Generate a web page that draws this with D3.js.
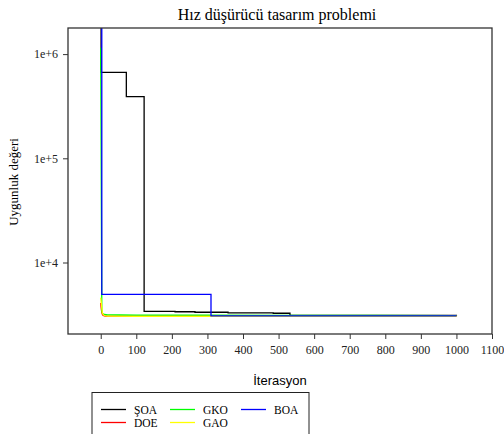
<!DOCTYPE html>
<html>
<head>
<meta charset="utf-8">
<script src="https://cdn.jsdelivr.net/npm/d3@7"></script>
<style>
  body { margin: 0; background: #fff; }
  svg { display: block; }
</style>
</head>
<body>
<svg id="chart" width="504" height="434"></svg>
<script>
// Data (iteration, fitness)
const soaIter = [0, 1, 72, 122, 209, 265, 358, 485, 532, 1000];
const soaVal  = [2.5e6, 668000, 390000, 3400, 3370, 3330, 3290, 3260, 3110, 3100];

const doeIter = [0, 2, 5, 10, 20, 100, 1000];
const doeVal  = [4100, 3500, 3150, 3080, 3060, 3055, 3050];

const gkoIter = [0, 3, 5, 10, 20, 100, 300, 530, 770, 1000];
const gkoVal  = [1.15e6, 3500, 3250, 3170, 3140, 3130, 3120, 3110, 3100, 3090];

const gaoIter = [0, 3, 5, 10, 20, 100, 1000];
const gaoVal  = [4600, 3700, 3250, 3100, 3060, 3045, 3040];

const boaIter = [0, 3, 309, 310, 1000];
const boaVal  = [2.5e6, 4950, 4950, 3070, 3070];

const xTicks = [0, 100, 200, 300, 400, 500, 600, 700, 800, 900, 1000, 1100];
const yTicks = [1e4, 1e5, 1e6];
const yTickLabels = ["1e+4", "1e+5", "1e+6"];

const seriesNames = ["ŞOA", "DOE", "GKO", "GAO", "BOA"];
const seriesColors = ["#000000", "#ff0000", "#00ff00", "#ffff00", "#0000ff"];
const seriesData = [
  [soaIter, soaVal],
  [doeIter, doeVal],
  [gkoIter, gkoVal],
  [gaoIter, gaoVal],
  [boaIter, boaVal]
];

const svg = d3.select("#chart");
const pLeft = 68, pRight = 492, pTop = 28, pBottom = 334;

const x = d3.scaleLinear().domain([-92, 1100]).range([pLeft, pRight]);
const y = d3.scaleLog().domain([2060, 1.78e6]).range([pBottom, pTop]);

const serif = "'Liberation Serif', 'Times New Roman', serif";
const sans = "'Liberation Sans', Arial, sans-serif";

// title
svg.append("text")
  .attr("x", 277).attr("y", 20)
  .attr("text-anchor", "middle")
  .style("font-family", serif).style("font-size", "16px")
  .text("Hız düşürücü tasarım problemi");

// clip
svg.append("defs").append("clipPath").attr("id", "plotClip")
  .append("rect")
  .attr("x", pLeft).attr("y", pTop)
  .attr("width", pRight - pLeft).attr("height", pBottom - pTop);

// lines
const line = d3.line()
  .x(d => x(d[0]))
  .y(d => y(d[1]));

const lineG = svg.append("g").attr("clip-path", "url(#plotClip)");
seriesData.forEach((s, i) => {
  const pts = s[0].map((it, j) => [it, s[1][j]]);
  const curve = (i === 0 || i === 4) ? d3.curveStepAfter : d3.curveMonotoneX;
  lineG.append("path")
    .attr("d", line.curve(curve)(pts))
    .attr("fill", "none")
    .attr("stroke", seriesColors[i])
    .attr("stroke-width", 1.3);
});

// frame
svg.append("rect")
  .attr("x", pLeft).attr("y", pTop)
  .attr("width", pRight - pLeft).attr("height", pBottom - pTop)
  .attr("fill", "none")
  .attr("stroke", "#333")
  .attr("stroke-width", 1.3);

// x axis
const xAxis = d3.axisBottom(x).tickValues(xTicks).tickFormat(d3.format("d"))
  .tickSize(5).tickPadding(6);
const gx = svg.append("g").attr("transform", `translate(0,${pBottom})`).call(xAxis);
gx.select(".domain").remove();
gx.selectAll("line").attr("stroke", "#333");
gx.selectAll("text").style("font-family", serif).style("font-size", "12px").attr("fill", "#222");

// y axis
const yAxis = d3.axisLeft(y).tickValues(yTicks)
  .tickFormat((d, i) => yTickLabels[i]).tickSize(5).tickPadding(5);
const gy = svg.append("g").attr("transform", `translate(${pLeft},0)`).call(yAxis);
gy.select(".domain").remove();
gy.selectAll("line").attr("stroke", "#333");
gy.selectAll("text").style("font-family", serif).style("font-size", "12px").attr("fill", "#222");

// axis titles
svg.append("text")
  .attr("x", 280).attr("y", 385)
  .attr("text-anchor", "middle")
  .style("font-family", sans).style("font-size", "13px")
  .text("İterasyon");

svg.append("text")
  .attr("transform", "translate(18,182) rotate(-90)")
  .attr("text-anchor", "middle")
  .style("font-family", serif).style("font-size", "13px")
  .text("Uygunluk değeri");

// legend
svg.append("rect")
  .attr("x", 92).attr("y", 392.5)
  .attr("width", 217).attr("height", 60)
  .attr("fill", "none").attr("stroke", "#222").attr("stroke-width", 1);

const legendCols = [101, 170, 241];
const legendRows = [409.5, 422.5];
const legendPos = [[0, 0], [0, 1], [1, 0], [1, 1], [2, 0]];
seriesNames.forEach((name, i) => {
  const cx = legendCols[legendPos[i][0]];
  const cy = legendRows[legendPos[i][1]];
  svg.append("line")
    .attr("x1", cx).attr("x2", cx + 25)
    .attr("y1", cy).attr("y2", cy)
    .attr("stroke", seriesColors[i]).attr("stroke-width", 1.3);
  svg.append("text")
    .attr("x", cx + 33).attr("y", cy + 4)
    .style("font-family", serif).style("font-size", "11.5px")
    .text(name);
});
</script>
</body>
</html>
